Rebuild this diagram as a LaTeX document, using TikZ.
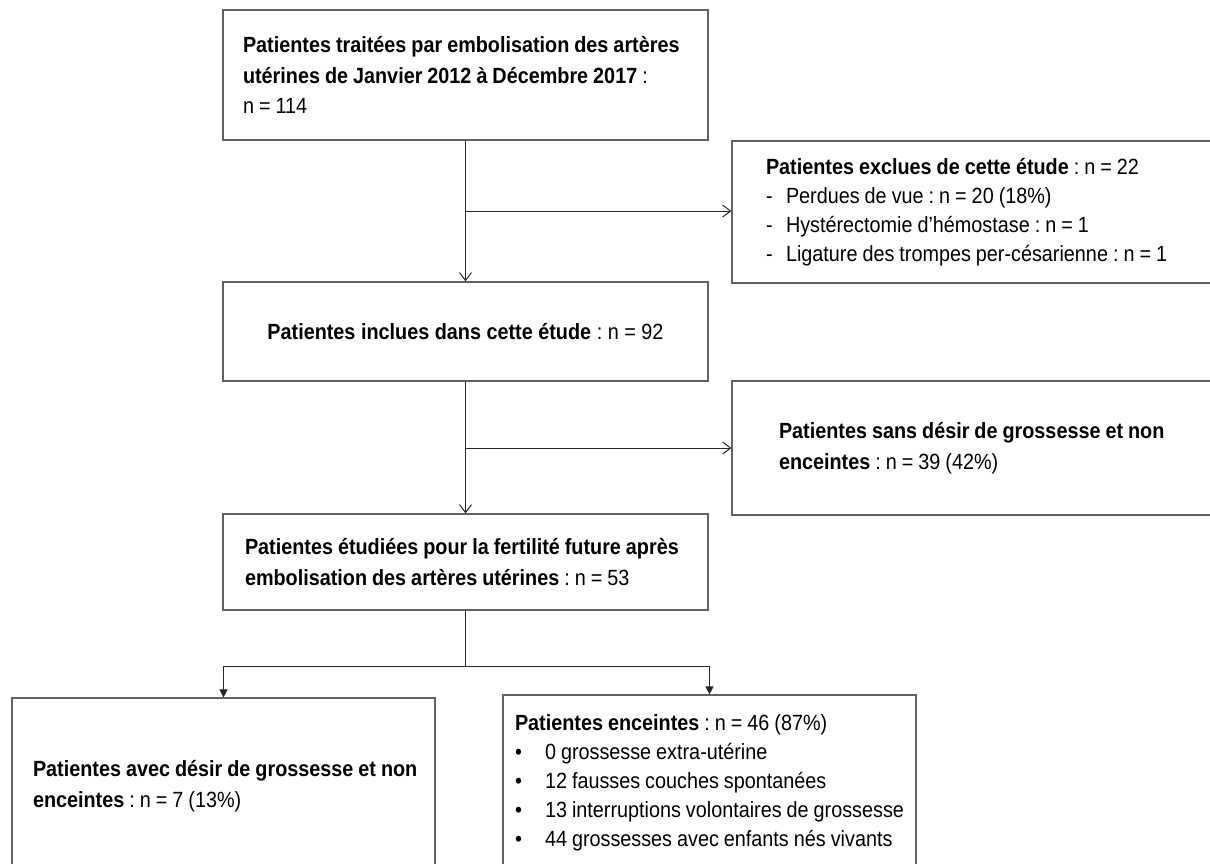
\documentclass[tikz,border=0pt]{standalone}
\usepackage{fontspec}
\setmainfont{Liberation Sans}[FakeStretch=0.9]
\usetikzlibrary{arrows.meta, positioning}

\begin{document}
\begin{tikzpicture}[
    x=1pt, y=-1pt,
    box/.style={draw=black!62, line width=1.2pt, align=left, inner ysep=0pt,
                font=\fontsize{22}{30.5}\selectfont,
                execute at begin node={\frenchspacing\spaceskip=5pt plus 1pt\relax}},
    arrow/.style={-{Straight Barb[length=8pt,width=12pt]}, line width=1pt, black!85},
    tri/.style={-{Triangle[length=8pt,width=8pt]}, line width=1pt, black!85},
]
\useasboundingbox (0,0) rectangle (1210,863);
\clip (0,0) rectangle (1210,863);

% main column
\node[box, minimum width=485pt, minimum height=130pt, text width=445pt] (treated) at (465.5,75)
    {\mbox{\textbf{Patientes traitées par embolisation des artères}}\\
     \mbox{\textbf{utérines de Janvier 2012 à Décembre 2017} :}\\
     n = 114};
\node[box, align=center, minimum width=485pt, minimum height=99pt, text width=445pt] (included) at (465.5,331.5)
    {\textbf{Patientes inclues dans cette étude} : n = 92};
\node[box, minimum width=485pt, minimum height=96pt, text width=441pt] (studied) at (465.5,562)
    {\mbox{\textbf{Patientes étudiées pour la fertilité future après}}\\
     \mbox{\textbf{embolisation des artères utérines} : n = 53}};

% side boxes (cut by the right border)
\node[box, minimum width=540pt, minimum height=142pt, text width=472pt,
      font=\fontsize{22}{29}\selectfont] (excluded) at (1002,212)
    {\textbf{Patientes exclues de cette étude} : n = 22\\
     \makebox[20pt][l]{-}Perdues de vue : n = 20 (18\%)\\
     \makebox[20pt][l]{-}Hystérectomie d’hémostase : n = 1\\
     \makebox[20pt][l]{-}Ligature des trompes per-césarienne : n = 1};
\node[box, minimum width=540pt, minimum height=134pt, text width=446pt] (nowish) at (1002,448)
    {\mbox{\textbf{Patientes sans désir de grossesse et non}}\\
     \textbf{enceintes} : n = 39 (42\%)};

% bottom row (cut by the lower border)
\node[box, minimum width=423pt, minimum height=176pt, text width=381pt] (wish) at (223.5,786)
    {\mbox{\textbf{Patientes avec désir de grossesse et non}}\\
     \textbf{enceintes} : n = 7 (13\%)};
\node[box, minimum width=413pt, minimum height=176pt, text width=389pt,
      font=\fontsize{22}{29}\selectfont] (pregnant) at (709.5,783)
    {\mbox{\textbf{Patientes enceintes} : n = 46 (87\%)}\\
     \mbox{\makebox[30pt][l]{\textbullet}0 grossesse extra-utérine}\\
     \mbox{\makebox[30pt][l]{\textbullet}12 fausses couches spontanées}\\
     \mbox{\makebox[30pt][l]{\textbullet}13 interruptions volontaires de grossesse}\\
     \mbox{\makebox[30pt][l]{\textbullet}44 grossesses avec enfants nés vivants}};

% branch points
\coordinate (j1) at (465.5,211);
\coordinate (j2) at (465.5,448);
\coordinate (j3) at (465.5,666);

\draw[arrow] (treated.south) -- (included.north);
\draw[arrow] (j1) -- (j1 -| excluded.west);

\draw[arrow] (included.south) -- (studied.north);
\draw[arrow] (j2) -- (j2 -| nowish.west);

\draw[black!85, line width=1pt] (studied.south) -- (j3);
\draw[tri] (j3) -| (wish.north);
\draw[tri] (j3) -| (pregnant.north);

\end{tikzpicture}
\end{document}
